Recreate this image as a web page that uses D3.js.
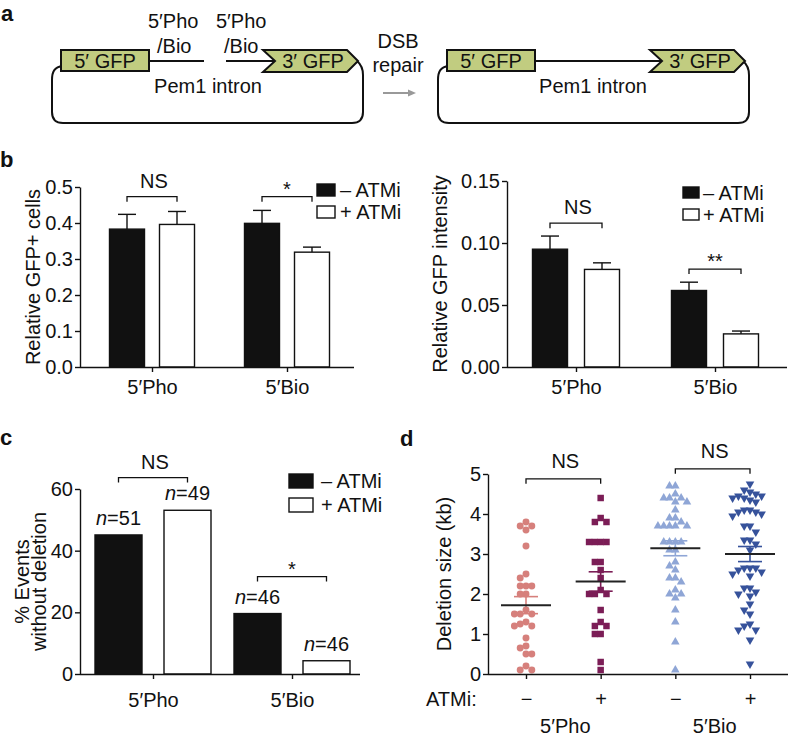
<!DOCTYPE html>
<html><head><meta charset="utf-8">
<script src="https://cdn.jsdelivr.net/npm/d3@7"></script>
<style>
body{margin:0;background:#fff}
svg{display:block}
text{font-family:"Liberation Sans",Arial,Helvetica,sans-serif;fill:#111}
</style>
</head><body>
<svg id="fig" width="788" height="741"></svg>
<script>
// ---------------- DATA ----------------
const groups = ["5′Pho", "5′Bio"];
const seriesKeys = ["minus", "plus"];
const seriesLabels = ["– ATMi", "+ ATMi"];

// b (left): relative GFP+ cells
const gfpCellsMinus = [0.383, 0.399];
const gfpCellsPlus = [0.396, 0.319];
const gfpCellsErrMinus = [0.041, 0.036];
const gfpCellsErrPlus = [0.036, 0.014];
const gfpCellsTicks = [0, 0.1, 0.2, 0.3, 0.4, 0.5];
const gfpCellsSig = ["NS", "*"];

// b (right): relative GFP intensity
const gfpIntMinus = [0.095, 0.0617];
const gfpIntPlus = [0.0787, 0.0267];
const gfpIntErrMinus = [0.0106, 0.0067];
const gfpIntErrPlus = [0.0053, 0.0023];
const gfpIntTicks = [0, 0.05, 0.10, 0.15];
const gfpIntSig = ["NS", "**"];

// c: % events without deletion
const noDelMinus = [45.1, 19.6];
const noDelPlus = [53.1, 4.3];
const noDelNMinus = [51, 46];
const noDelNPlus = [49, 46];
const noDelTicks = [0, 20, 40, 60];
const noDelSig = ["NS", "*"];

// d: deletion size (kb)
const delGroups = ["pho-", "pho+", "bio-", "bio+"];
const delAtmi = ["−", "+", "−", "+"];
const delTicks = [0, 1, 2, 3, 4, 5];
const delSig = ["NS", "NS"];
const delPhoMinus = [3.7, 3.6, 3.8, 3.7, 3.2, 2.4, 2.5, 2.2, 2.2, 2.2, 2.0, 2.0, 1.6, 1.5, 1.5, 1.5,
  1.3, 1.25, 1.2, 1.2, 0.9, 0.7, 0.65, 0.5, 0.5, 0.2, 0.1, 0.1];
const delPhoPlus = [4.4, 3.9, 3.8, 3.8, 3.3, 3.3, 3.3, 3.3, 2.8, 2.8, 2.6, 2.4, 2.1, 2.0, 2.0, 2.0,
  1.6, 1.3, 1.2, 1.2, 1.0, 1.0, 0.3, 0.1];
const delBioMinus = [4.7, 4.7, 4.5, 4.4, 4.4, 4.4, 4.3, 4.3, 4.1, 3.9, 3.9, 3.8, 3.7, 3.7, 3.7, 3.7, 3.7,
  3.3, 3.3, 3.3, 3.3, 3.1, 3.1, 2.8, 2.7, 2.6, 2.4, 2.4, 2.3, 2.1, 2.0, 2.0, 1.9, 1.6, 1.3, 0.8, 0.1];
const delBioPlus = [4.75, 4.6, 4.55, 4.5, 4.45, 4.45, 4.4, 4.4, 4.35, 4.3, 4.1, 4.1, 4.05, 4.05, 4.0, 3.95,
  3.7, 3.7, 3.55, 3.35, 3.35, 3.25, 3.1, 2.65, 2.65, 2.65, 2.6, 2.55, 2.5, 2.45, 2.15, 2.15, 2.05, 2.0,
  1.95, 1.75, 1.6, 1.5, 1.25, 1.2, 1.1, 1.1, 0.85, 0.25];
const delValues = [delPhoMinus, delPhoPlus, delBioMinus, delBioPlus];

// ---------------- DRAWING ----------------
const FS = 20;
const svg = d3.select("#fig");
const INK = "#111";

function panelLetter(t, x, y) {
  svg.append("text").attr("x", x).attr("y", y).attr("font-size", 22).attr("font-weight", "bold").text(t);
}

function styleAxis(sel) {
  sel.selectAll(".domain").attr("stroke", INK).attr("stroke-width", 1.4);
  sel.selectAll(".tick line").attr("stroke", INK).attr("stroke-width", 1.4);
  sel.selectAll(".tick text").attr("font-size", FS).attr("fill", INK)
    .attr("font-family", '"Liberation Sans",Arial,Helvetica,sans-serif');
}

function yLabel(g, lines, x, cy, lh) {
  const t = g.append("text").attr("transform", `translate(${x},${cy}) rotate(-90)`)
    .attr("text-anchor", "middle").attr("font-size", FS);
  lines.forEach((l, i) => t.append("tspan").attr("x", 0).attr("y", (i - (lines.length - 1)) * lh).text(l));
}

function bracket(g, xa, xb, yy, label, tip, labelOff) {
  g.append("path").attr("d", `M${xa},${yy + tip}V${yy}H${xb}V${yy + tip}`)
    .attr("fill", "none").attr("stroke", INK).attr("stroke-width", 1.3);
  const isStar = label.indexOf("*") >= 0;
  g.append("text").attr("x", (xa + xb) / 2 + (isStar ? 0 : 2)).attr("y", yy + (isStar ? -1 : labelOff))
    .attr("text-anchor", "middle").attr("font-size", FS).text(label);
}

function legend(g, o) {
  seriesKeys.forEach((k, i) => {
    g.append("rect").attr("x", o.x).attr("y", o.y + i * o.dy).attr("width", o.w).attr("height", o.h)
      .attr("fill", k === "minus" ? INK : "#fff").attr("stroke", INK).attr("stroke-width", 1.4);
    g.append("text").attr("x", o.tx).attr("y", o.y + i * o.dy + o.h / 2 + 7)
      .attr("font-size", FS).text(seriesLabels[i]);
  });
}

function barPanel(o) {
  const g = svg.append("g");
  const y = d3.scaleLinear().domain([0, o.max]).range([o.yBottom, o.yTop]);
  const xg = d3.scalePoint().domain(groups).range(o.centers);
  const half = o.barW + o.gap / 2;
  const xs = d3.scaleBand().domain(seriesKeys).range([-half, half])
    .paddingInner(o.gap / (o.barW + o.gap)).paddingOuter(0);

  const rows = [];
  groups.forEach((gr, i) => {
    rows.push({ gr, i, k: "minus", v: o.minus[i], e: o.errMinus ? o.errMinus[i] : null, n: o.nMinus ? o.nMinus[i] : null });
    rows.push({ gr, i, k: "plus", v: o.plus[i], e: o.errPlus ? o.errPlus[i] : null, n: o.nPlus ? o.nPlus[i] : null });
  });
  const bx = d => xg(d.gr) + xs(d.k);
  const bc = d => bx(d) + xs.bandwidth() / 2;

  rows.filter(d => d.e != null).forEach(d => {
    g.append("line").attr("x1", bc(d)).attr("x2", bc(d)).attr("y1", y(d.v)).attr("y2", y(d.v + d.e))
      .attr("stroke", INK).attr("stroke-width", 1.4);
    g.append("line").attr("x1", bc(d) - 9).attr("x2", bc(d) + 9).attr("y1", y(d.v + d.e)).attr("y2", y(d.v + d.e))
      .attr("stroke", INK).attr("stroke-width", 1.4);
  });
  g.selectAll("rect.bar").data(rows).join("rect").attr("class", "bar")
    .attr("x", bx).attr("width", xs.bandwidth())
    .attr("y", d => y(d.v)).attr("height", d => y(0) - y(d.v))
    .attr("fill", d => d.k === "minus" ? INK : "#fff").attr("stroke", INK).attr("stroke-width", 1.4);

  rows.filter(d => d.n != null).forEach(d => {
    const t = g.append("text").attr("x", bc(d)).attr("y", y(d.v) - 10).attr("text-anchor", "middle").attr("font-size", FS);
    t.append("tspan").attr("font-style", "italic").text("n");
    t.append("tspan").text("=" + d.n);
  });

  const ya = g.append("g").attr("transform", `translate(${o.x0},0)`)
    .call(d3.axisLeft(y).tickValues(o.ticks).tickFormat(o.fmt).tickSize(5).tickSizeOuter(0).tickPadding(2));
  styleAxis(ya);
  const xa = g.append("g").attr("transform", `translate(0,${o.yBottom})`)
    .call(d3.axisBottom(xg).tickSize(5).tickSizeOuter(0).tickPadding(o.xPad));
  xa.select(".domain").remove();
  styleAxis(xa);
  g.append("line").attr("x1", o.x0).attr("x2", o.x1).attr("y1", o.yBottom + 0.5).attr("y2", o.yBottom + 0.5)
    .attr("stroke", INK).attr("stroke-width", 1.4);

  groups.forEach((gr, i) => {
    const a = rows.find(d => d.gr === gr && d.k === "minus"), b = rows.find(d => d.gr === gr && d.k === "plus");
    bracket(g, bc(a), bc(b), y(o.sigLevel[i]), o.sig[i], 5, -9);
  });

  yLabel(g, o.yLabel, o.yLabelX, (o.yTop + o.yBottom) / 2, 17);
  legend(g, o.legend);
}

// ---------- panel a: schematic ----------
const GFP = "#c1cc80";
function construct(ox, joined) {
  const g = svg.append("g").attr("transform", `translate(${ox},0)`);
  const L = -9, R = 302, B = 123;
  g.append("path").attr("d",
    `M2,66 C${L + 2},67 ${L},72 ${L},80 L${L},${B - 11} Q${L},${B} ${L + 11},${B} L${R - 11},${B} Q${R},${B} ${R},${B - 11} L${R},75 Q${R},66 ${R - 6},61`)
    .attr("fill", "none").attr("stroke", INK).attr("stroke-width", 2);
  if (joined) {
    g.append("line").attr("x1", 88).attr("x2", 214).attr("y1", 61).attr("y2", 61).attr("stroke", INK).attr("stroke-width", 2);
  } else {
    g.append("line").attr("x1", 88).attr("x2", 143).attr("y1", 61).attr("y2", 61).attr("stroke", INK).attr("stroke-width", 2);
    g.append("line").attr("x1", 165).attr("x2", 214).attr("y1", 61).attr("y2", 61).attr("stroke", INK).attr("stroke-width", 2);
  }
  g.append("rect").attr("x", 0).attr("y", 50).attr("width", 88).attr("height", 21)
    .attr("fill", GFP).attr("stroke", INK).attr("stroke-width", 2);
  g.append("text").attr("x", 44).attr("y", 67.5).attr("text-anchor", "middle").attr("font-size", FS).text("5′ GFP");
  const ax = joined ? 203 : 202;
  g.append("path").attr("d", `M${ax},50 H${ax + 84} L${ax + 95},61 L${ax + 84},72 H${ax} L${ax + 12},61 Z`)
    .attr("fill", GFP).attr("stroke", INK).attr("stroke-width", 2).attr("stroke-linejoin", "miter");
  g.append("text").attr("x", ax + 50).attr("y", 67.5).attr("text-anchor", "middle").attr("font-size", FS).text("3′ GFP");
  g.append("text").attr("x", joined ? 146 : 147).attr("y", 93).attr("text-anchor", "middle").attr("font-size", FS).text("Pem1 intron");
  return g;
}
panelLetter("a", 1, 21);
const ca = construct(61, false);
ca.append("text").attr("x", 87).attr("y", 28).attr("font-size", FS).text("5′Pho");
ca.append("text").attr("x", 96).attr("y", 53).attr("font-size", FS).text("/Bio");
ca.append("text").attr("x", 155).attr("y", 28).attr("font-size", FS).text("5′Pho");
ca.append("text").attr("x", 163).attr("y", 53).attr("font-size", FS).text("/Bio");
construct(447, true);
svg.append("text").attr("x", 398).attr("y", 48).attr("text-anchor", "middle").attr("font-size", FS).text("DSB");
svg.append("text").attr("x", 398).attr("y", 72).attr("text-anchor", "middle").attr("font-size", FS).text("repair");
svg.append("line").attr("x1", 383).attr("x2", 409).attr("y1", 93).attr("y2", 93).attr("stroke", "#999").attr("stroke-width", 2);
svg.append("path").attr("d", "M408,89.5 L416,93 L408,96.5 Z").attr("fill", "#999");

// ---------- panel b ----------
panelLetter("b", 0, 167);
barPanel({
  x0: 80, x1: 354, yTop: 187, yBottom: 367, max: 0.5, ticks: gfpCellsTicks, fmt: d3.format(".1f"),
  centers: [152, 287], barW: 35, gap: 15, xPad: 8,
  minus: gfpCellsMinus, plus: gfpCellsPlus, errMinus: gfpCellsErrMinus, errPlus: gfpCellsErrPlus,
  sig: gfpCellsSig, sigLevel: [0.473, 0.473],
  yLabel: ["Relative GFP+ cells"], yLabelX: 40,
  legend: { x: 317, y: 184, w: 18, h: 12, dy: 22, tx: 340 }
});
barPanel({
  x0: 507, x1: 787, yTop: 181, yBottom: 367, max: 0.15, ticks: gfpIntTicks, fmt: d3.format(".2f"),
  centers: [576, 715], barW: 35, gap: 17, xPad: 8,
  minus: gfpIntMinus, plus: gfpIntPlus, errMinus: gfpIntErrMinus, errPlus: gfpIntErrPlus,
  sig: gfpIntSig, sigLevel: [0.116, 0.079],
  yLabel: ["Relative GFP intensity"], yLabelX: 447,
  legend: { x: 683, y: 187, w: 16, h: 11, dy: 22, tx: 703 }
});

// ---------- panel c ----------
panelLetter("c", 0, 445);
barPanel({
  x0: 80, x1: 360, yTop: 489, yBottom: 674, max: 60, ticks: noDelTicks, fmt: d3.format("d"),
  centers: [153, 292], barW: 47, gap: 22, xPad: 14,
  minus: noDelMinus, plus: noDelPlus, nMinus: noDelNMinus, nPlus: noDelNPlus,
  sig: noDelSig, sigLevel: [63.7, 31.6],
  yLabel: ["% Events", "without deletion"], yLabelX: 46,
  legend: { x: 289, y: 474, w: 24, h: 14, dy: 24, tx: 321 }
});

// ---------- panel d ----------
panelLetter("d", 400, 446);
(function () {
  const g = svg.append("g");
  const x0 = 488, x1 = 788, yTop = 474, yBottom = 674;
  const y = d3.scaleLinear().domain([0, 5]).range([yBottom, yTop]);
  const xg = d3.scalePoint().domain(delGroups).range([526, 750]);
  const colors = ["#d6807c", "#7b1d56", "#8fa6d6", "#36529b"];
  const shapes = [d3.symbolCircle, d3.symbolSquare, d3.symbolTriangle, d3.symbolTriangle];
  const sizes = [38, 42, 32, 32];
  const rot = [0, 0, 0, 180];
  const step = 5.8, rowH = 7;
  const cands = [0, -1, 1, -2, 2, -3, 3, -4, 4, -5, 5, -6, 6];

  delValues.forEach((vals, gi) => {
    const cx = xg(delGroups[gi]);
    const pts = vals.map(v => ({ v, py: y(v) })).sort((a, b) => d3.descending(a.v, b.v));
    const placed = [];
    pts.forEach(p => {
      p.px = cx;
      for (const k of cands) {
        const px = cx + k * step;
        if (placed.every(q => Math.abs(q.px - px) >= step * 0.9 || Math.abs(q.py - p.py) >= rowH)) { p.px = px; break; }
      }
      placed.push(p);
    });
    const sym = d3.symbol().type(shapes[gi]).size(sizes[gi]);
    g.selectAll(null).data(placed).join("path")
      .attr("d", sym)
      .attr("transform", d => `translate(${d.px},${d.py}) rotate(${rot[gi]})`)
      .attr("fill", colors[gi]);
    const m = d3.mean(vals), sem = d3.deviation(vals) / Math.sqrt(vals.length);
    g.append("line").attr("x1", cx).attr("x2", cx).attr("y1", y(m - sem)).attr("y2", y(m + sem))
      .attr("stroke", colors[gi]).attr("stroke-width", 1.6);
    [m - sem, m + sem].forEach(vv => g.append("line").attr("x1", cx - 12).attr("x2", cx + 12)
      .attr("y1", y(vv)).attr("y2", y(vv)).attr("stroke", colors[gi]).attr("stroke-width", 1.6));
    g.append("line").attr("x1", cx - 25).attr("x2", cx + 25).attr("y1", y(m)).attr("y2", y(m))
      .attr("stroke", "#222").attr("stroke-width", 2);
  });

  const ya = g.append("g").attr("transform", `translate(${x0},0)`)
    .call(d3.axisLeft(y).tickValues(delTicks).tickFormat(d3.format("d")).tickSize(5).tickSizeOuter(0).tickPadding(2));
  styleAxis(ya);
  const xa = g.append("g").attr("transform", `translate(0,${yBottom})`)
    .call(d3.axisBottom(xg).tickSize(5).tickSizeOuter(0).tickPadding(13).tickFormat((d, i) => delAtmi[i]));
  xa.select(".domain").remove();
  styleAxis(xa);
  g.append("line").attr("x1", x0).attr("x2", x1).attr("y1", yBottom + 0.5).attr("y2", yBottom + 0.5)
    .attr("stroke", INK).attr("stroke-width", 1.4);
  g.append("text").attr("x", 426).attr("y", 706).attr("font-size", FS).text("ATMi:");
  groups.forEach((gr, i) => {
    const cx = (xg(delGroups[2 * i]) + xg(delGroups[2 * i + 1])) / 2;
    g.append("text").attr("x", cx + 2).attr("y", 733).attr("text-anchor", "middle").attr("font-size", FS).text(gr);
  });
  bracket(g, xg(delGroups[0]), xg(delGroups[1]), y(4.88), delSig[0], 5, -11);
  bracket(g, xg(delGroups[2]), xg(delGroups[3]), y(5.13), delSig[1], 5, -11);
  yLabel(g, ["Deletion size (kb)"], 451, (yTop + yBottom) / 2, 17);
})();
</script>
</body></html>
